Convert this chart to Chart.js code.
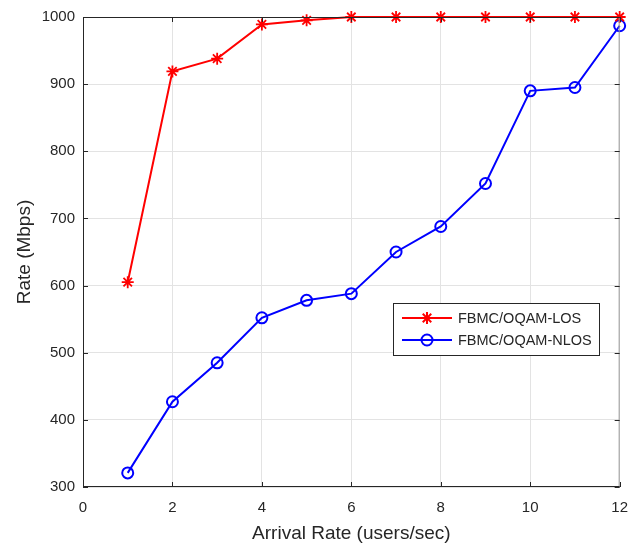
<!DOCTYPE html>
<html><head><meta charset="utf-8">
<script src="https://cdn.jsdelivr.net/npm/chart.js@4/dist/chart.umd.min.js"></script>
<style>html,body{margin:0;padding:0;background:#fff}#wrap{width:640px;height:548px}</style>
</head><body><div id="wrap"><canvas id="c" width="640" height="548"></canvas></div>
<script>
const arrivalRates = [1,2,3,4,5,6,7,8,9,10,11,12];
const losRate = [605,919,938,989,995,1000,1000,1000,1000,1000,1000,1000];
const nlosRate = [321,427,485,552,578,588,650,688,752,890,895,987];
const seriesNames = ['FBMC/OQAM-LOS','FBMC/OQAM-NLOS'];
const xTicks = [0,2,4,6,8,10,12];
const yTicks = [300,400,500,600,700,800,900,1000];

const FONT = "'Liberation Sans', Arial, Helvetica, sans-serif";
const AX = '#262626';

const boxPlugin = {
  id: 'box',
  afterDraw(chart) {
    const ctx = chart.ctx, a = chart.chartArea;
    const xs = chart.scales.x, ys = chart.scales.y;
    ctx.save();
    ctx.lineWidth = 1;
    ctx.strokeStyle = '#9a9a9a';
    ctx.beginPath();
    ctx.moveTo(a.right - 0.5, a.top); ctx.lineTo(a.right - 0.5, a.bottom);
    ctx.stroke();
    ctx.strokeStyle = AX;
    ctx.beginPath();
    ctx.moveTo(a.right, a.top + 0.5); ctx.lineTo(a.left + 0.5, a.top + 0.5);
    ctx.lineTo(a.left + 0.5, a.bottom - 0.5); ctx.lineTo(a.right, a.bottom - 0.5);
    xs.ticks.forEach((t, i) => {
      const p = Math.round(xs.getPixelForTick(i)) + 0.5;
      ctx.moveTo(p, a.bottom); ctx.lineTo(p, a.bottom - 5);
      ctx.moveTo(p, a.top); ctx.lineTo(p, a.top + 5);
    });
    ys.ticks.forEach((t, i) => {
      const p = Math.round(ys.getPixelForTick(i)) + 0.5;
      ctx.moveTo(a.left, p); ctx.lineTo(a.left + 5, p);
      ctx.moveTo(a.right, p); ctx.lineTo(a.right - 5, p);
    });
    ctx.stroke();
    // legend
    const lx = 393, ly = 303, lw = 206, lh = 52;
    ctx.fillStyle = '#fff';
    ctx.fillRect(lx, ly, lw, lh);
    ctx.strokeStyle = AX;
    ctx.strokeRect(lx + 0.5, ly + 0.5, lw, lh);
    chart.data.datasets.forEach((ds, i) => {
      const y = ly + 15 + i * 22;
      ctx.strokeStyle = ds.borderColor; ctx.lineWidth = 2;
      ctx.beginPath(); ctx.moveTo(lx + 9, y); ctx.lineTo(lx + 59, y); ctx.stroke();
      ctx.fillStyle = 'rgba(0,0,0,0)';
      Chart.helpers.drawPoint(ctx, {pointStyle: ds.pointStyle, radius: ds.pointRadius, borderWidth: 2, rotation: 0}, lx + 34, y);
      ctx.fillStyle = AX; ctx.font = '14.5px ' + FONT; ctx.textBaseline = 'middle';
      ctx.fillText(ds.label, lx + 65, y + 1);
    });
    ctx.restore();
  }
};

new Chart(document.getElementById('c'), {
  type: 'line',
  data: {
    datasets: [
      { label: seriesNames[0], data: arrivalRates.map((x, i) => ({x, y: losRate[i]})),
        borderColor: '#ff0000', backgroundColor: 'rgba(0,0,0,0)', borderWidth: 2,
        pointStyle: 'star', pointRadius: 6, pointBorderWidth: 1.8, pointBorderColor: '#ff0000',
        pointBackgroundColor: 'rgba(0,0,0,0)', tension: 0, clip: false },
      { label: seriesNames[1], data: arrivalRates.map((x, i) => ({x, y: nlosRate[i]})),
        borderColor: '#0000ff', backgroundColor: 'rgba(0,0,0,0)', borderWidth: 2,
        pointStyle: 'circle', pointRadius: 5.5, pointBorderWidth: 2, pointBorderColor: '#0000ff',
        pointBackgroundColor: 'rgba(0,0,0,0)', tension: 0, clip: false }
    ]
  },
  options: {
    responsive: false, animation: false, devicePixelRatio: 1,
    layout: { padding: { left: 0, right: 20, top: 15, bottom: 0 } },
    plugins: { legend: { display: false }, tooltip: { enabled: false } },
    scales: {
      x: {
        type: 'linear', min: 0, max: 12,
        afterBuildTicks(s) { s.ticks = xTicks.map(v => ({value: v})); },
        afterFit(s) { s.height = 61; },
        grid: { color: '#e3e3e3', drawTicks: false, lineWidth: 1 },
        border: { display: false },
        ticks: { color: AX, font: { family: FONT, size: 15 }, padding: 12, maxRotation: 0,
                 callback: v => String(v) },
        title: { display: true, text: 'Arrival Rate (users/sec)', color: AX, font: { family: FONT, size: 19 }, padding: { top: 3, bottom: 3 } }
      },
      y: {
        type: 'linear', min: 300, max: 1000,
        afterBuildTicks(s) { s.ticks = yTicks.map(v => ({value: v})); },
        afterFit(s) { s.width = 83; },
        grid: { color: '#e3e3e3', drawTicks: false, lineWidth: 1 },
        border: { display: false },
        ticks: { color: AX, font: { family: FONT, size: 15 }, padding: 8, callback: v => String(v) },
        title: { display: true, text: 'Rate (Mbps)', color: AX, font: { family: FONT, size: 19 }, padding: { top: 13, bottom: 13 } }
      }
    }
  },
  plugins: [boxPlugin]
});
</script></body></html>
